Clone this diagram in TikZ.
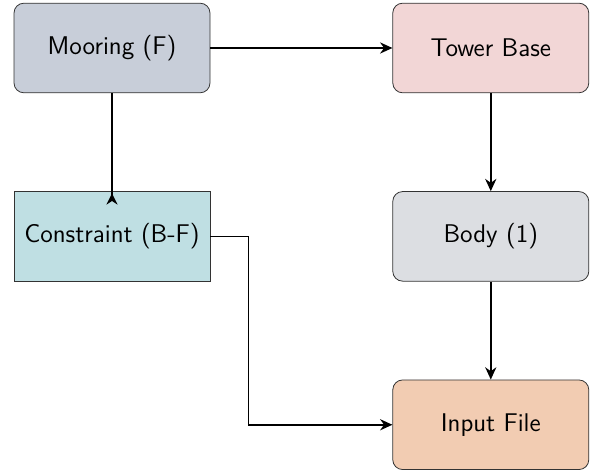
\documentclass[tikz,border=0pt]{standalone}
\usepackage{tikz}
\usetikzlibrary{positioning, calc, arrows.meta}

\definecolor{mooringcol}{HTML}{C8CED9}
\definecolor{towercol}{HTML}{F2D6D6}
\definecolor{constraintcol}{HTML}{BFDFE3}
\definecolor{bodycol}{HTML}{DCDEE2}
\definecolor{inputcol}{HTML}{F2CCB2}

\begin{document}
\begin{tikzpicture}[
    font=\sffamily\fontsize{13}{15}\selectfont,
    block/.style={draw=black!80, thin, rounded corners=5pt, minimum width=3.5cm, minimum height=1.6cm},
    flatblock/.style={draw=black!80, thin, minimum width=3.5cm, minimum height=1.6cm},
    link/.style={thick, -{Stealth[length=2.2mm, width=2mm]}},
    node distance=1.75cm and 3.25cm
  ]
    \useasboundingbox (0,0) rectangle (10.643,-8.464);

    \node[block, fill=mooringcol] (mooring) at (2.0,-0.857) {Mooring (F)};
    \node[block, fill=towercol, right=of mooring] (tower) {Tower Base};
    \node[flatblock, fill=constraintcol, below=of mooring] (constraint) {Constraint (B-F)};
    \node[block, fill=bodycol, below=of tower] (body) {Body (1)};
    \node[block, fill=inputcol, below=of body] (input) {Input File};

    \draw[link] (mooring.east) -- (tower.west);
    \draw[link] (tower.south) -- (body.north);
    \draw[link] (body.south) -- (input.north);
    \draw[thick, -{Stealth[reversed, length=2mm, width=2mm]}, shorten >=-2.4mm] (mooring.south) -- (constraint.north);

    \coordinate (bend) at ($(constraint.east)+(0.68,0)$);
    \draw[link] (constraint.east) -- (bend) |- (input.west);
  \end{tikzpicture}
\end{document}
